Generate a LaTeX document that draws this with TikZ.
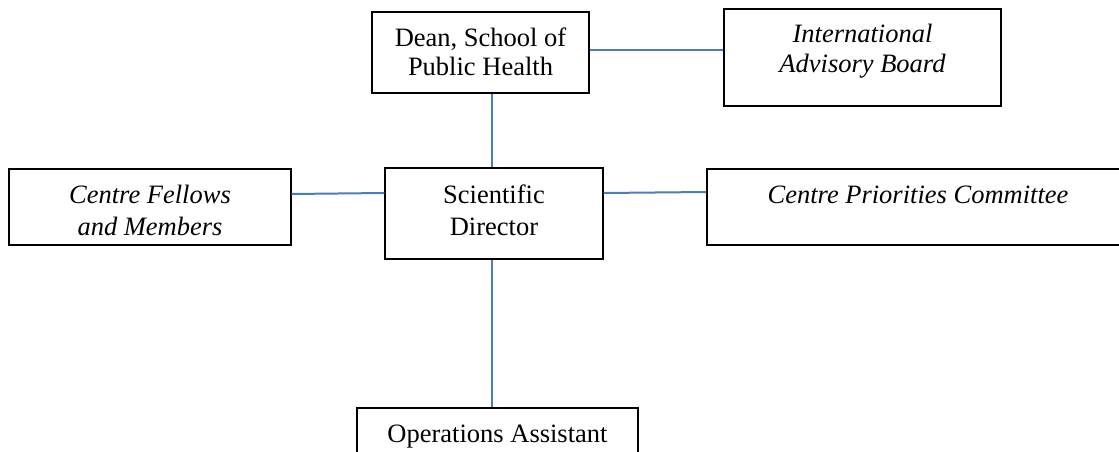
\documentclass[tikz,border=0pt]{standalone}
\usepackage{fontspec}
\setmainfont{Liberation Serif}
\definecolor{linkblue}{HTML}{4A7EBB}
\begin{document}
\begin{tikzpicture}[x=1pt,y=-1pt,
  box/.style={draw=black, line width=1.3pt, inner sep=0, fill=none},
  lbl/.style={inner sep=0, font=\fontsize{26.5}{31}\selectfont, align=center, anchor=base},
  link/.style={draw=linkblue, line width=2pt}]
\useasboundingbox (0,0) rectangle (1119,452);
\clip (0,0) rectangle (1119,452);
% boxes
\node[box, minimum width=217pt, minimum height=81pt] (dean) at (480.5,52.5) {};
\node[box, minimum width=277pt, minimum height=97pt] (iab) at (862.5,57.5) {};
\node[box, minimum width=282pt, minimum height=76pt] (cf) at (150,207) {};
\node[box, minimum width=218pt, minimum height=91pt] (sd) at (494,213.5) {};
\node[box, minimum width=422pt, minimum height=76pt] (cpc) at (918,207) {};
\node[box, minimum width=281pt, minimum height=64pt] (ops) at (497.5,440) {};
% labels (anchor=base is the baseline of the last line)
\node[lbl, font=\fontsize{26.5}{29}\selectfont] (deanT) at (480.5,76) {Dean, School of\\Public Health};
\node[lbl, font=\fontsize{26.5}{30}\selectfont] (iabT) at (862.5,73) {\itshape International\\\itshape Advisory Board};
\node[lbl, font=\fontsize{26.5}{32}\selectfont] (cfT) at (150,235) {\itshape Centre Fellows\\\itshape and Members};
\node[lbl, font=\fontsize{26.5}{32}\selectfont] (sdT) at (494,235) {Scientific\\Director};
\node[lbl] (cpcT) at (918,203) {\itshape Centre Priorities Committee};
\node[lbl] (opsT) at (497.5,442) {Operations Assistant};
% connectors
\draw[link] ([yshift=2.5pt]dean.east) -- ([yshift=7.5pt]iab.west);
\draw[link] ([xshift=11.5pt]dean.south) -- ([xshift=-2pt]sd.north);
\draw[link] ([yshift=13pt]cf.east) -- ([yshift=20.5pt]sd.west);
\draw[link] ([yshift=20.5pt]sd.east) -- ([yshift=15pt]cpc.west);
\draw[link] ([xshift=-2pt]sd.south) -- ([xshift=-5.5pt]ops.north);
\end{tikzpicture}
\end{document}
